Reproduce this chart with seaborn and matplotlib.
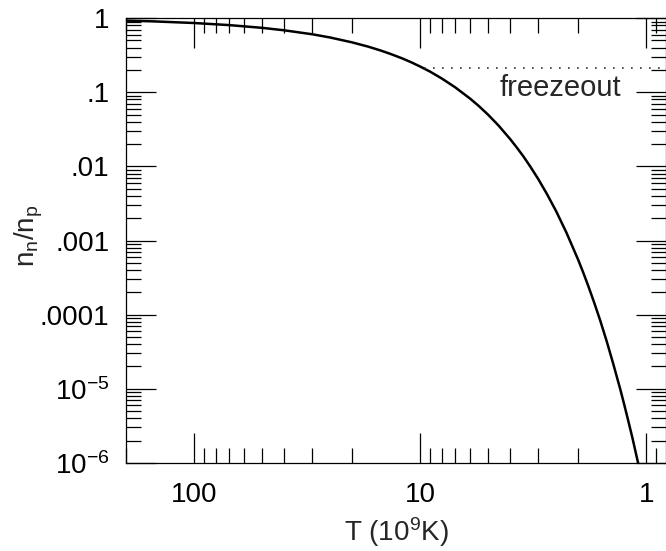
import matplotlib
matplotlib.use("Agg")
import matplotlib.pyplot as plt
import matplotlib.ticker as mticker
import pandas as pd
import seaborn as sns

# Neutron-to-proton ratio
temps = [200, 150, 100, 70, 50, 40, 30, 25, 20, 17, 15, 13.5, 12, 11, 10, 9, 8, 7,
         6, 5.5, 5, 4.5, 4, 3.75, 3.5, 3.25, 3, 2.75, 2.5, 2.25, 2, 1.9, 1.8, 1.7,
         1.6, 1.5, 1.4, 1.3, 1.25, 1.2, 1.15, 1.1, 1.08]
ratio = [0.928, 0.905, 0.861, 0.807, 0.741, 0.687, 0.607, 0.549, 0.472, 0.414,
         0.368, 0.329, 0.287, 0.256, 0.223, 0.189, 0.153, 0.117, 0.082, 0.0654,
         0.0498, 0.0357, 0.0235, 0.0183, 0.0138, 0.0099, 0.00674, 0.00427,
         0.00248, 0.00127, 0.000553, 0.000373, 0.00024, 0.000147, 8.5e-5,
         4.54e-5, 2.2e-5, 9.7e-6, 6.1e-6, 3.7e-6, 2.17e-6, 1.19e-6, 9.3e-7]

# Freezeout level
freeze_T = [9.6, 0.8]
freeze_ratio = [0.21, 0.21]

y_ticks = [1, 0.1, 0.01, 0.001, 0.0001, 1e-5, 1e-6]
y_labels = ["1", ".1", ".01", ".001", ".0001", r"$10^{-5}$", r"$10^{-6}$"]
x_ticks = [100, 10, 1]
x_labels = ["100", "10", "1"]

sns.set_style("ticks")
plt.rcParams["font.family"] = ["Liberation Sans", "DejaVu Sans"]
plt.rcParams["mathtext.fontset"] = "custom"
plt.rcParams["mathtext.rm"] = "Liberation Sans"
plt.rcParams["mathtext.it"] = "Liberation Sans"

curve = pd.DataFrame({"T": temps, "ratio": ratio})
freeze = pd.DataFrame({"T": freeze_T, "ratio": freeze_ratio})

fig = plt.figure(figsize=(6.66, 5.51), dpi=100)
ax = fig.add_axes([0.189, 0.160, 0.811, 0.807])

sns.lineplot(data=curve, x="T", y="ratio", ax=ax, color="black", linewidth=1.8, sort=False)
sns.lineplot(data=freeze, x="T", y="ratio", ax=ax, color="#333333", linewidth=1.2,
             linestyle=(0, (1, 4.4)), sort=False)

ax.set_xscale("log")
ax.set_yscale("log")
ax.set_xlim(200, 0.817)
ax.set_ylim(1e-6, 1)

ax.set_xticks(x_ticks)
ax.set_xticklabels(x_labels)
ax.set_yticks(y_ticks)
ax.set_yticklabels(y_labels)
ax.xaxis.set_minor_locator(mticker.LogLocator(base=10, subs=range(2, 10)))
ax.yaxis.set_minor_locator(mticker.LogLocator(base=10, subs=range(2, 10)))
ax.xaxis.set_minor_formatter(mticker.NullFormatter())
ax.yaxis.set_minor_formatter(mticker.NullFormatter())

ax.tick_params(which="both", direction="in", top=True, right=True, width=0.9, colors="black")
ax.tick_params(which="major", length=21.6, labelsize=20)
ax.tick_params(axis="y", which="major", pad=12)
ax.tick_params(axis="x", which="major", pad=14)
ax.tick_params(which="minor", length=10.8)
for s in ax.spines.values():
    s.set_linewidth(0.9)
    s.set_color("black")

ax.text(2.4, 0.114, "freezeout", fontsize=21, ha="center", va="center")

ax.set_xlabel(r"T (10$^9$K)", fontsize=20, labelpad=5)
ax.set_ylabel(r"n$_n$/n$_p$", fontsize=20)
ax.yaxis.set_label_coords(-0.15, 0.51)

fig.savefig("out.png", dpi=100)
